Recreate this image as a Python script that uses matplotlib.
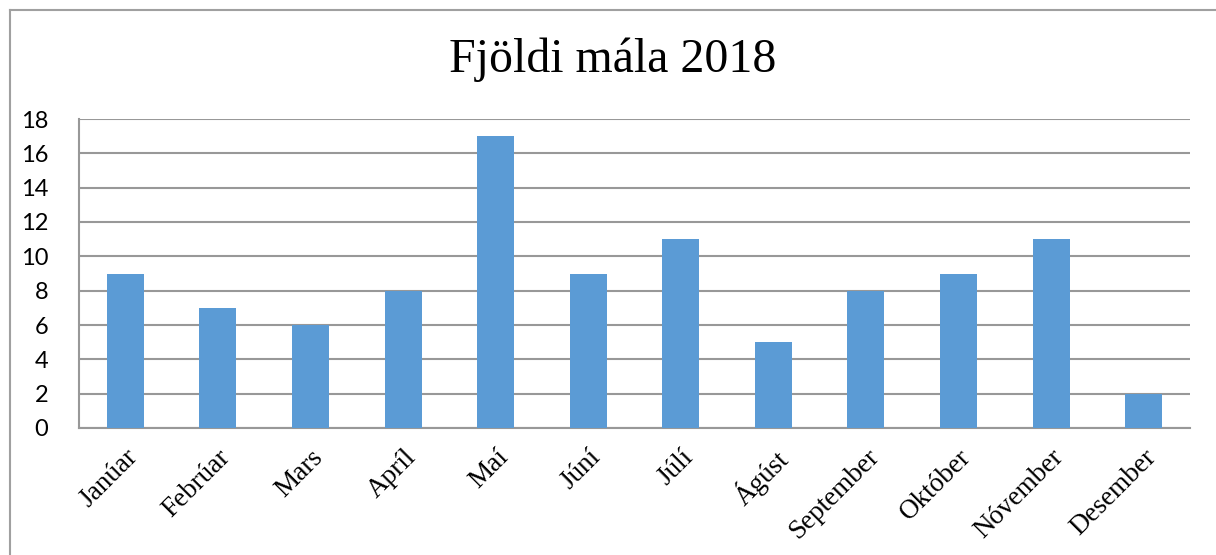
import matplotlib.pyplot as plt
from matplotlib.lines import Line2D

months = ['Janúar', 'Febrúar', 'Mars', 'Apríl', 'Maí', 'Júní', 'Júlí',
          'Ágúst', 'September', 'Október', 'Nóvember', 'Desember']
counts = [9, 7, 6, 8, 17, 9, 11, 5, 8, 9, 11, 2]
yticks = [0, 2, 4, 6, 8, 10, 12, 14, 16, 18]

fig = plt.figure(figsize=(12.16, 5.55), dpi=100)
ax = fig.add_axes([79 / 1216, 1 - 428 / 555, (1190 - 79) / 1216, (428 - 119) / 555])

# outer chart frame (only top and left visible in the reference)
fig.add_artist(Line2D([10 / 1216, 10 / 1216], [0, 1 - 10 / 555], color='#a0a0a0', lw=1.5))
fig.add_artist(Line2D([10 / 1216, 1], [1 - 10 / 555, 1 - 10 / 555], color='#a0a0a0', lw=1.5))

x = range(len(months))
ax.bar(x, counts, width=0.4, color='#5b9bd5', zorder=3)
ax.set_xlim(-0.5, 11.5)
ax.set_ylim(0, 18)
ax.set_yticks(yticks)
ax.yaxis.grid(True, color='#989898', lw=1.5, zorder=0)
for s in ['top', 'right']:
    ax.spines[s].set_visible(False)
for s in ['left', 'bottom']:
    ax.spines[s].set_color('#989898')
    ax.spines[s].set_linewidth(1.5)
ax.tick_params(length=0)
ax.tick_params(axis='y', pad=22)
ax.set_yticklabels([str(v) for v in yticks], family='Lato', fontsize=17)
ax.set_xticks(list(x))
ax.set_xticklabels(months, rotation=45, ha='right', rotation_mode='anchor',
                   family='Liberation Serif', fontsize=19.5)
ax.tick_params(axis='x', pad=12)

fig.text(613 / 1216, 1 - 60 / 555, 'Fjöldi mála 2018', ha='center', va='center',
         family='Liberation Serif', fontsize=34.5)

fig.savefig('out.png', dpi=100)
